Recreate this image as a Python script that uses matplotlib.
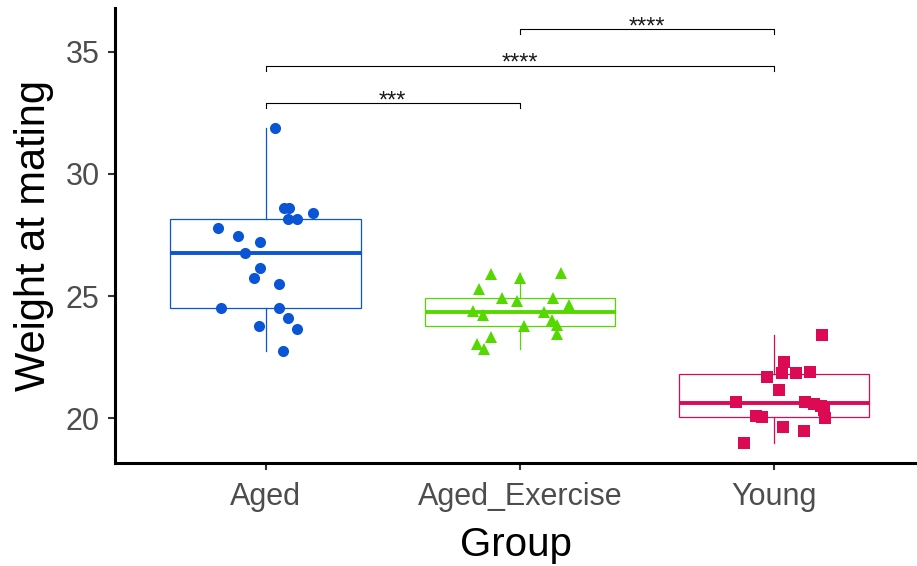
import matplotlib
matplotlib.use("Agg")
import matplotlib.pyplot as plt
import numpy as np

plt.rcParams['font.family'] = ['Liberation Sans', 'DejaVu Sans']

# group names and colours
groups = ["Aged", "Aged_Exercise", "Young"]
colors = ["#0A55D6", "#55D800", "#DB0A52"]
markers = ["o", "^", "s"]
msizes = [8.0, 9.0, 8.5]

# weight at mating for each animal
aged = [31.87, 28.59, 28.59, 28.39, 28.14, 28.14, 27.77, 27.46, 27.23, 26.77,
        26.13, 25.75, 25.48, 24.52, 24.52, 24.08, 23.78, 23.65, 22.76]
aged_exercise = [25.90, 25.72, 25.95, 25.29, 24.90, 24.80, 24.90, 24.63, 24.40,
                 24.22, 24.33, 24.02, 23.78, 23.81, 23.44, 23.31, 23.03, 22.83]
young = [23.40, 22.31, 21.83, 21.83, 21.87, 21.70, 21.15, 20.67, 20.67, 20.58,
         20.49, 20.35, 20.01, 20.08, 20.05, 19.62, 19.47, 18.99]

# horizontal jitter of each point (in group units)
aged_jit = [0.035, 0.071, 0.090, 0.185, 0.086, 0.122, -0.189, -0.110, -0.024, -0.083,
            -0.024, -0.047, 0.051, -0.177, 0.051, 0.086, -0.028, 0.122, 0.067]
exer_jit = [-0.114, 0.0, 0.161, -0.161, -0.071, -0.012, 0.130, 0.192, -0.185,
            -0.145, 0.094, 0.126, 0.016, 0.145, 0.145, -0.114, -0.169, -0.141]
young_jit = [0.189, 0.039, 0.031, 0.086, 0.141, -0.028, 0.020, -0.149, 0.122, 0.157,
             0.185, 0.197, 0.201, -0.071, -0.047, 0.035, 0.118, -0.118]

values = [aged, aged_exercise, young]
jitters = [aged_jit, exer_jit, young_jit]

# pairwise comparisons: (group a, group b, label)
comparisons = [(0, 1, "***"), (0, 2, "****"), (1, 2, "****")]
bracket_y = [32.90, 34.43, 35.94]

fig = plt.figure(figsize=(9.17, 5.66), dpi=100)
ax = fig.add_axes([0.1254, 0.182, 0.874, 0.804])

for i, vals in enumerate(values):
    c = colors[i]
    ax.boxplot(vals, positions=[i], widths=0.75, showcaps=False, showfliers=False,
               patch_artist=True,
               boxprops=dict(facecolor="none", edgecolor=c, linewidth=0.9),
               whiskerprops=dict(color=c, linewidth=0.9),
               medianprops=dict(color=c, linewidth=2.8, solid_capstyle="butt"))
    xs = i + np.array(jitters[i])
    ax.plot(xs, vals, linestyle="none", marker=markers[i], markersize=msizes[i],
            color=c, markeredgewidth=0, zorder=3)

# significance brackets
tick = 0.2
for (a, b, lab), yb in zip(comparisons, bracket_y):
    ax.plot([a, a, b, b], [yb - tick, yb, yb, yb - tick], color="black", linewidth=0.8)
    ax.text((a + b) / 2, yb - 0.17, lab, ha="center", va="baseline", fontsize=17,
            color="#1a1a1a")

ax.set_xlim(-0.593, 2.56)
ax.set_ylim(18.16, 36.8)
ax.set_xticks(range(len(groups)))
ax.set_xticklabels(groups)
ax.set_yticks([20, 25, 30, 35])

for s in ["top", "right"]:
    ax.spines[s].set_visible(False)
for s in ["left", "bottom"]:
    ax.spines[s].set_linewidth(2.2)
    ax.spines[s].set_color("black")

ax.tick_params(axis="both", length=5, width=1.5, color="#333333",
               labelcolor="#4D4D4D", labelsize=22)
ax.tick_params(axis="x", pad=9)
ax.tick_params(axis="y", pad=6)

ax.set_xlabel("Group", fontsize=29, labelpad=10)
ax.set_ylabel("Weight at mating", fontsize=30, labelpad=8)

fig.savefig("out.png", dpi=100)
